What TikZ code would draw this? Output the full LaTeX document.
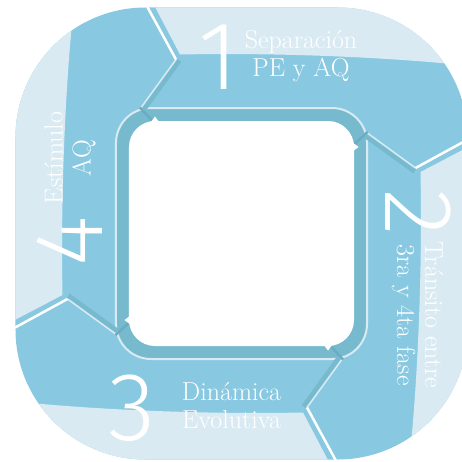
\documentclass[tikz,border=0pt]{standalone}
\usepackage{fontspec}
\newfontfamily\numfont{Fira Sans Light}

\definecolor{paleblue}{HTML}{DAEAF2}
\definecolor{midblue}{HTML}{88C9E1}
\definecolor{ringblue}{HTML}{77BACE}
\definecolor{foldblue}{HTML}{6AADC2}

\begin{document}
\begin{tikzpicture}[x=1pt, y=1pt,
            num/.style={font=\numfont\fontsize{97}{97}\selectfont, text=white, inner sep=0pt},
            lbl/.style={font=\fontsize{26}{28}\selectfont, text=white, align=center, inner sep=0pt},
            cutline/.style={white, line width=2.5pt},
            foldband/.style={ringblue, line width=4.5pt},
            foldline/.style={paleblue, line width=1.5pt},
            joint/.style={foldblue, line width=2.5pt}
        ]
        \clip (-241.5,-227.5) rectangle (220.5,233.5);

        % --- outer band ---
        \fill[midblue, rounded corners=130pt] (-226,-226) rectangle (226,226);

        % --- pale outer part of each step ---
        \foreach \a in {0,-90,-180,-270}{
            \begin{scope}[rotate=\a]
                \clip[rounded corners=130pt] (-226,-226) rectangle (226,226);
                \fill[paleblue] (-93.5,240) -- (-61.5,179)
                    .. controls (40,181) and (140,176) .. (205,170)
                    -- (250,168) -- (250,240) -- cycle;
            \end{scope}
        }

        % --- inner ring ---
        \fill[ringblue, rounded corners=35pt] (-125.5,-125.5) rectangle (125.5,125.5);
        \draw[paleblue, line width=2pt, rounded corners=35pt] (-125.5,-125.5) rectangle (125.5,125.5);
        \fill[white, rounded corners=26pt] (-112.5,-112.5) rectangle (112.5,112.5);

        % --- chevrons between the steps ---
        \foreach \a in {0,-90,-180,-270}{
            \begin{scope}[rotate=\a]
                \draw[foldband] (-62,173) -- (-97.5,124);
                \draw[foldline] (-65.5,174) -- (-101.5,124.5);
                \draw[cutline] (-96,230) -- (-65.5,174);
                \draw[joint] (-101.5,126) -- (-89.5,113);
                \fill[white] (-91,111) -- (-86.5,117) -- (-82,111) -- cycle;
            \end{scope}
        }

        % --- step numbers ---
        \node[num] (one) at (-23,176) {1};
        \node[num, rotate=-90] (two) at (177,21) {2};
        \node[num] (three) at (-109,-175) {3};
        \node[num, rotate=90] (four) at (-172,-7.5) {4};

        % --- step labels ---
        \node[lbl] (sep) at (59.5,177) {Separación\\PE y AQ};
        \node[lbl, rotate=-90] (tra) at (176,-81.5) {Tránsito entre\\3ra y 4ta fase};
        \node[lbl] (din) at (-10,-172) {Dinámica\\Evolutiva};
        \node[lbl, rotate=90] (est) at (-171.5,75.5) {Estímulo\\AQ};
\end{tikzpicture}
\end{document}
